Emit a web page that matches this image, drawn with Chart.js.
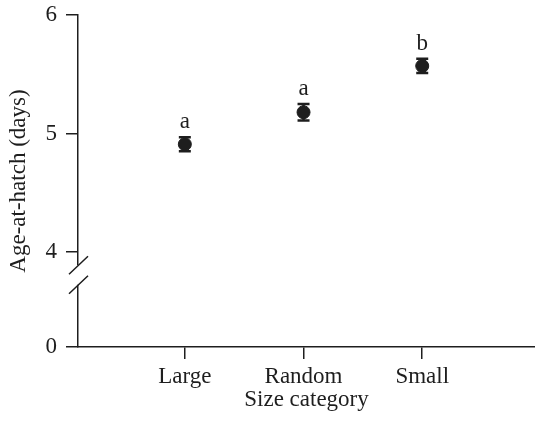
<!DOCTYPE html>
<html>
<head>
<meta charset="utf-8">
<style>
html, body { margin: 0; padding: 0; background: #fff; }
#wrap { width: 535px; height: 421px; }
</style>
<script src="https://cdn.jsdelivr.net/npm/chart.js@4"></script>
</head>
<body>
<div id="wrap"><canvas id="hatch"></canvas></div>
<script>
var categories = ["Large", "Random", "Small"];
var meanAge = [4.91, 5.18, 5.57];
var errLow = [4.85, 5.11, 5.51];
var errHigh = [4.97, 5.25, 5.63];
var groupLetters = ["a", "a", "b"];
// axis is broken: the bottom tick (3.2 on the scale) stands for 0
var yTickValues = [3.2, 4, 5, 6];
var yTickLabels = ["0", "4", "5", "6"];
var breakMarks = [3.89, 3.725];

var ink = "#1e1e1e";
Chart.defaults.font.family = "'Liberation Serif', 'Times New Roman', serif";
Chart.defaults.font.size = 23;
Chart.defaults.color = ink;

var errorBars = {
	id : "errorBars",
	beforeDatasetsDraw : function(chart) {
		var ctx = chart.ctx, xs = chart.scales.x, ys = chart.scales.y;
		ctx.save();
		ctx.strokeStyle = ink;
		ctx.lineWidth = 2.5;
		for (var i = 0; i < categories.length; i++) {
			var x = xs.getPixelForValue(i + 1);
			var lo = ys.getPixelForValue(errLow[i]);
			var hi = ys.getPixelForValue(errHigh[i]);
			ctx.beginPath();
			ctx.moveTo(x, lo); ctx.lineTo(x, hi);
			ctx.moveTo(x - 6, lo); ctx.lineTo(x + 6, lo);
			ctx.moveTo(x - 6, hi); ctx.lineTo(x + 6, hi);
			ctx.stroke();
		}
		ctx.restore();
	},
	afterDraw : function(chart) {
		var ctx = chart.ctx, xs = chart.scales.x, ys = chart.scales.y;
		ctx.save();
		// letters above each group
		ctx.fillStyle = ink;
		ctx.font = "23px 'Liberation Serif', serif";
		ctx.textAlign = "center";
		ctx.textBaseline = "alphabetic";
		for (var i = 0; i < categories.length; i++) {
			ctx.fillText(groupLetters[i], xs.getPixelForValue(i + 1), ys.getPixelForValue(errHigh[i]) - 9);
		}
		// axis break
		var ax = chart.chartArea.left;
		var y1 = ys.getPixelForValue(breakMarks[0]);
		var y2 = ys.getPixelForValue(breakMarks[1]);
		ctx.fillStyle = "#fff";
		ctx.fillRect(ax - 3, y1, 6, y2 - y1);
		ctx.strokeStyle = ink;
		ctx.lineWidth = 1.5;
		ctx.beginPath();
		[y1, y2].forEach(function(y) {
			ctx.moveTo(ax - 9, y + 9);
			ctx.lineTo(ax + 10, y - 9);
		});
		ctx.stroke();
		ctx.restore();
	}
};

var ctx = document.getElementById("hatch");

var chart = new Chart(ctx, {
	type : "scatter",
	data : {
		datasets : [{
			label : "Age-at-hatch",
			data : meanAge.map(function(v, i) { return { x : i + 1, y : v }; }),
			backgroundColor : ink,
			borderColor : ink,
			pointRadius : 6.5,
			pointHoverRadius : 6.5
		}]
	},
	options : {
		responsive : true,
		maintainAspectRatio : false,
		animation : false,
		layout : { autoPadding : false, padding : { top : 15, right : 0, left : 0, bottom : 0 } },
		plugins : { legend : { display : false }, tooltip : { enabled : false } },
		scales : {
			x : {
				type : "linear",
				min : 0.1,
				max : 3.95,
				afterBuildTicks : function(scale) {
					scale.ticks = categories.map(function(c, i) { return { value : i + 1 }; });
				},
				afterFit : function(scale) {
					scale.height = 74;
					scale.paddingLeft = 0;
					scale.paddingRight = 0;
				},
				ticks : {
					padding : 4,
					maxRotation : 0,
					callback : function(v) { return categories[v - 1]; }
				},
				grid : { drawOnChartArea : false, tickLength : 12, color : ink, lineWidth : 1.5 },
				border : { color : ink, width : 1.5 },
				title : { display : true, text : "Size category", padding : { top : 0, bottom : 7 } }
			},
			y : {
				min : 3.2,
				max : 6,
				afterBuildTicks : function(scale) {
					scale.ticks = yTickValues.map(function(v) { return { value : v }; });
				},
				afterFit : function(scale) {
					scale.width = 78;
					scale.paddingTop = 0;
					scale.paddingBottom = 0;
				},
				ticks : {
					padding : 9,
					callback : function(v) { return yTickLabels[yTickValues.indexOf(v)]; }
				},
				grid : { drawOnChartArea : false, tickLength : 12, color : ink, lineWidth : 1.5 },
				border : { color : ink, width : 1.5 },
				title : { display : true, text : "Age-at-hatch (days)", padding : { top : 5, bottom : 0 } }
			}
		}
	},
	plugins : [errorBars]
});
</script>
</body>
</html>
